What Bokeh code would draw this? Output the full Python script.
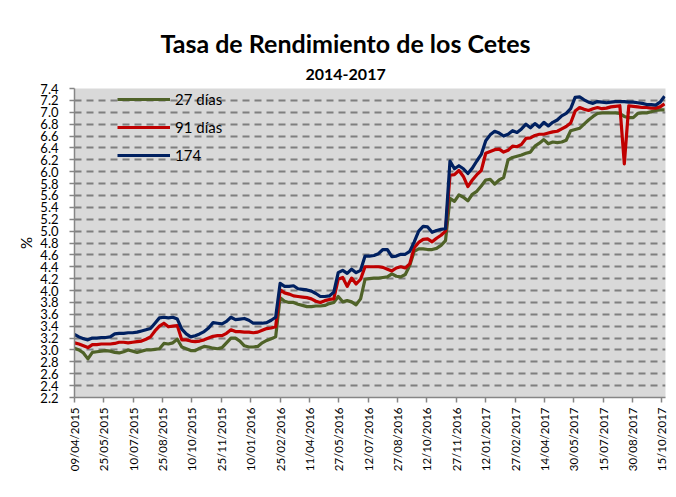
import pandas as pd
from math import pi
from bokeh.plotting import figure
from bokeh.models import (FixedTicker, DatetimeTickFormatter, Range1d, Legend, LegendItem,
                          Title, SingleIntervalTicker, NumeralTickFormatter)
from bokeh.embed import file_html
from bokeh.resources import INLINE

# ---------------- data (weekly auctions) ----------------
start_date = "2015-04-09"

cetes_27 = [3.03, 3.00, 2.95, 2.85, 2.96, 2.97, 2.98, 2.99, 2.98, 2.96,
            2.95, 2.97, 3.00, 2.98, 2.96, 2.98, 3.00, 3.00, 3.01, 3.02,
            3.11, 3.10, 3.12, 3.18, 3.05, 3.02, 2.99, 2.99, 3.03, 3.06,
            3.05, 3.03, 3.02, 3.04, 3.12, 3.20, 3.20, 3.15, 3.07, 3.05,
            3.05, 3.06, 3.12, 3.16, 3.19, 3.22, 3.88, 3.82, 3.80, 3.80,
            3.77, 3.75, 3.73, 3.73, 3.74, 3.74, 3.75, 3.78, 3.80, 3.90,
            3.81, 3.83, 3.81, 3.76, 3.86, 4.19, 4.20, 4.21, 4.21, 4.22,
            4.23, 4.28, 4.24, 4.23, 4.27, 4.42, 4.66, 4.70, 4.70, 4.69,
            4.69, 4.71, 4.76, 4.84, 5.55, 5.50, 5.61, 5.57, 5.51, 5.62,
            5.67, 5.76, 5.86, 5.87, 5.79, 5.86, 5.90, 6.20, 6.24, 6.26,
            6.28, 6.31, 6.33, 6.43, 6.48, 6.54, 6.47, 6.50, 6.49, 6.50,
            6.53, 6.69, 6.71, 6.73, 6.80, 6.87, 6.93, 6.98, 6.99, 6.99,
            6.99, 6.99, 6.98, 6.93, 6.91, 6.91, 6.98, 6.99, 6.99, 7.01,
            7.03, 7.04, 7.04]

cetes_91 = [3.12, 3.10, 3.07, 3.04, 3.09, 3.09, 3.10, 3.10, 3.10, 3.11,
            3.13, 3.13, 3.12, 3.13, 3.14, 3.15, 3.18, 3.22, 3.32, 3.40,
            3.45, 3.39, 3.40, 3.41, 3.17, 3.17, 3.15, 3.14, 3.15, 3.17,
            3.20, 3.23, 3.24, 3.24, 3.28, 3.34, 3.31, 3.31, 3.30, 3.30,
            3.29, 3.30, 3.33, 3.36, 3.37, 3.39, 4.01, 3.96, 3.94, 3.91,
            3.90, 3.89, 3.88, 3.86, 3.82, 3.80, 3.83, 3.85, 3.86, 4.19,
            4.22, 4.07, 4.21, 4.11, 4.19, 4.40, 4.40, 4.40, 4.40, 4.39,
            4.36, 4.33, 4.38, 4.40, 4.38, 4.45, 4.72, 4.81, 4.86, 4.87,
            4.82, 4.88, 4.93, 5.00, 5.94, 5.95, 6.02, 5.92, 5.75, 5.86,
            5.95, 6.02, 6.31, 6.34, 6.37, 6.38, 6.33, 6.36, 6.43, 6.42,
            6.46, 6.56, 6.57, 6.61, 6.63, 6.63, 6.65, 6.67, 6.68, 6.72,
            6.76, 6.82, 7.02, 7.08, 7.05, 7.03, 7.06, 7.08, 7.06, 7.07,
            7.09, 7.10, 7.11, 6.13, 7.11, 7.10, 7.09, 7.08, 7.08, 7.07,
            7.07, 7.09, 7.14]

cetes_174 = [3.26, 3.22, 3.19, 3.17, 3.20, 3.20, 3.21, 3.21, 3.22, 3.27,
             3.28, 3.28, 3.29, 3.29, 3.30, 3.32, 3.34, 3.36, 3.45, 3.54,
             3.55, 3.54, 3.55, 3.52, 3.35, 3.27, 3.22, 3.24, 3.27, 3.31,
             3.37, 3.46, 3.45, 3.44, 3.48, 3.55, 3.51, 3.52, 3.53, 3.50,
             3.45, 3.45, 3.45, 3.46, 3.50, 3.55, 4.12, 4.07, 4.07, 4.08,
             4.03, 4.02, 4.01, 3.99, 3.95, 3.90, 3.90, 3.91, 3.97, 4.30,
             4.34, 4.29, 4.36, 4.30, 4.34, 4.58, 4.58, 4.59, 4.62, 4.69,
             4.69, 4.57, 4.58, 4.61, 4.61, 4.66, 4.82, 5.00, 5.08, 5.07,
             4.98, 5.01, 5.03, 5.04, 6.18, 6.05, 6.10, 6.05, 5.97, 6.06,
             6.18, 6.29, 6.52, 6.62, 6.68, 6.65, 6.60, 6.63, 6.69, 6.66,
             6.72, 6.80, 6.74, 6.81, 6.75, 6.83, 6.77, 6.83, 6.87, 6.94,
             6.98, 7.06, 7.25, 7.26, 7.21, 7.17, 7.15, 7.18, 7.17, 7.16,
             7.17, 7.18, 7.18, 7.18, 7.17, 7.17, 7.16, 7.15, 7.13, 7.13,
             7.12, 7.17, 7.27]

series_names = ["27 días", "91 días", "174"]
series_colors = ["#4f6228", "#c00000", "#002060"]

tick_labels = ["09/04/2015", "25/05/2015", "10/07/2015", "25/08/2015", "10/10/2015",
               "25/11/2015", "10/01/2016", "25/02/2016", "11/04/2016", "27/05/2016",
               "12/07/2016", "27/08/2016", "12/10/2016", "27/11/2016", "12/01/2017",
               "27/02/2017", "14/04/2017", "30/05/2017", "15/07/2017", "30/08/2017",
               "15/10/2017"]

y_min, y_max = 2.2, 7.4

# ---------------- figure ----------------
dates = pd.date_range(start_date, periods=len(cetes_27), freq="7D")
tick_dates = pd.to_datetime(tick_labels, format="%d/%m/%Y")
tick_ms = [t.timestamp() * 1000 for t in tick_dates]

x_start = pd.Timestamp(start_date)
x_end = x_start + pd.Timedelta(days=925.5)

p = figure(width=668, height=490, x_axis_type="datetime",
           x_range=Range1d(x_start, x_end), y_range=Range1d(y_min, y_max),
           output_backend="svg", toolbar_location=None,
           min_border_left=74, min_border_right=3, min_border_top=88,
           min_border_bottom=93)

p.background_fill_color = "#d9d9d9"
p.border_fill_color = "white"
p.outline_line_color = None

renderers = []
for vals, color in zip([cetes_27, cetes_91, cetes_174], series_colors):
    r = p.line(dates, vals, line_color=color, line_width=3.2, line_join="round")
    renderers.append(r)

# axes
p.xaxis.ticker = FixedTicker(ticks=tick_ms)
fmt = "%d/%m/%Y"
p.xaxis.formatter = DatetimeTickFormatter(milliseconds=fmt, seconds=fmt, minsec=fmt,
                                          minutes=fmt, hourmin=fmt, hours=fmt, days=fmt,
                                          months=fmt, years=fmt)
p.xaxis.major_label_orientation = pi / 2
p.yaxis.ticker = SingleIntervalTicker(interval=0.2, num_minor_ticks=0)
p.yaxis.formatter = NumeralTickFormatter(format="0.0")
p.yaxis.axis_label = "%"

for ax in (p.xaxis[0], p.yaxis[0]):
    ax.axis_line_color = "#868686"
    ax.axis_line_width = 1.5
    ax.major_tick_line_color = "#868686"
    ax.major_tick_line_width = 1.5
    ax.major_tick_out = 5
    ax.major_tick_in = 0
    ax.minor_tick_line_color = None
    ax.major_label_text_color = "#000000"
    ax.major_label_text_font = "Lato"

p.xaxis.major_label_text_font_size = "11.5px"
p.xaxis.major_label_standoff = 5
p.yaxis.major_label_text_font_size = "13px"
p.yaxis.major_label_standoff = 11
p.yaxis.axis_label_text_font = "Lato"
p.yaxis.axis_label_text_font_style = "normal"
p.yaxis.axis_label_text_font_size = "15px"
p.yaxis.axis_label_text_color = "#000000"
p.yaxis.axis_label_standoff = 2

p.xgrid.grid_line_color = None
p.ygrid.grid_line_color = "#7f7f7f"
p.ygrid.grid_line_width = 2
p.ygrid.grid_line_dash = "7 5"

# legend
items = [LegendItem(label=n, renderers=[r]) for n, r in zip(series_names, renderers)]
legend = Legend(items=items, location=(43, 232), padding=0, margin=0,
                glyph_width=53, glyph_height=20, label_height=20, spacing=8,
                label_standoff=5, label_text_font="Lato", label_text_font_size="15px",
                label_text_color="#000000", background_fill_alpha=0,
                border_line_color=None)
p.add_layout(legend, "center")

# titles
p.add_layout(Title(text="2014-2017", align="left", offset=231,
                   text_font="Lato", text_font_style="bold", text_font_size="16px",
                   text_color="#000000", standoff=18), "above")
p.add_layout(Title(text="Tasa de Rendimiento de los Cetes", align="left", offset=86,
                   text_font="Lato", text_font_style="bold", text_font_size="25px",
                   text_color="#000000", standoff=0), "above")

open("out.html", "w").write(file_html(p, INLINE))
